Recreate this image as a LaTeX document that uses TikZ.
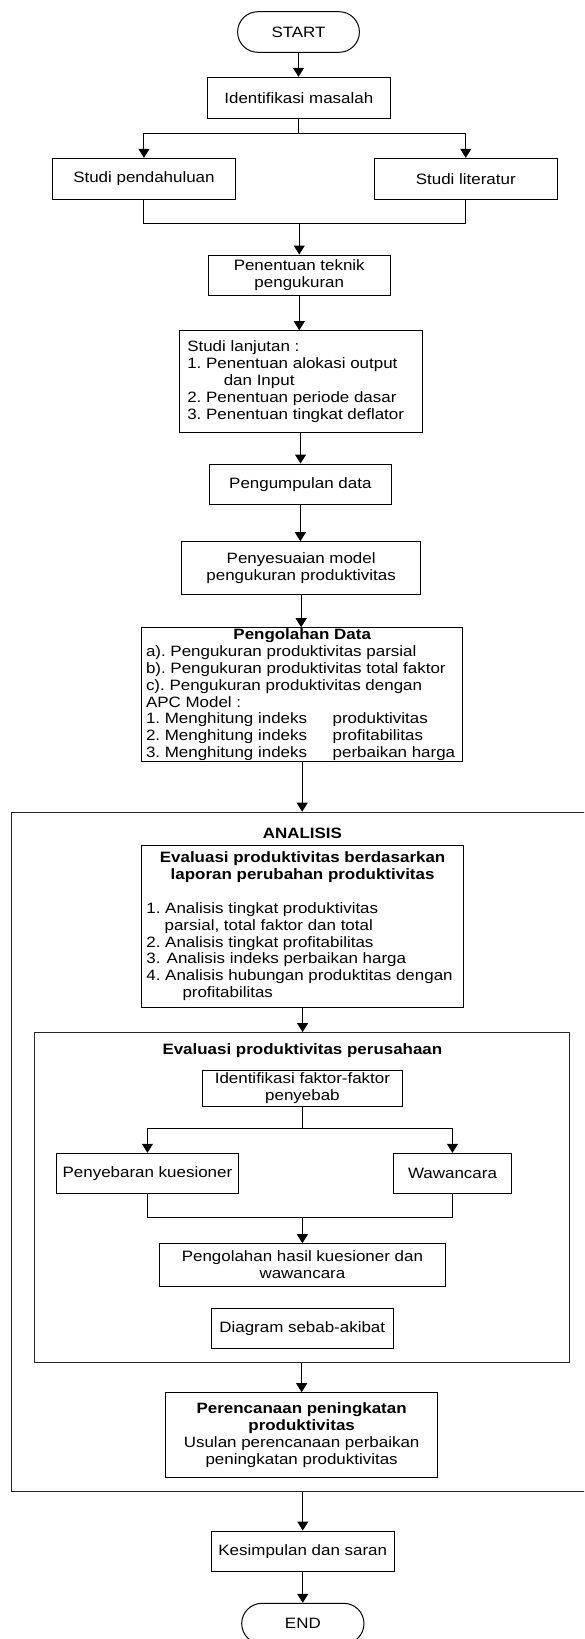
\documentclass[tikz,border=0pt]{standalone}
\usepackage{fontspec}
\setmainfont{Liberation Sans}[FakeStretch=1.13]
\usetikzlibrary{arrows.meta,shapes.misc}
\frenchspacing

\tikzset{
  txt/.style={font=\fontsize{15pt}{16.9pt}\selectfont},
  boldtxt/.style={font=\fontsize{15pt}{16.9pt}\selectfont\bfseries},
  box/.style={draw, line width=1pt, rectangle, inner sep=0pt, align=center, txt},
  term/.style={draw, line width=1pt, rounded rectangle, inner sep=0pt, txt},
  frame/.style={draw=black!85, line width=1.2pt, rectangle, inner sep=0pt},
  link/.style={line width=1pt},
  arr/.style={line width=1pt, -{Triangle[length=9pt,width=11pt]}},
}

\begin{document}
\begin{tikzpicture}[x=1pt,y=-1pt]
\useasboundingbox (0,0) rectangle (584,1639);
\clip (0,0) rectangle (584,1639);

% --- preparation stage ---
\node[term, minimum width=121.8pt, minimum height=40.6pt] (start) at (298.5,32) {START};
\node[box, minimum width=182.9pt, minimum height=40.7pt] (idm) at (298.85,97.65) {Identifikasi masalah};
\node[box, minimum width=182.1pt, minimum height=41pt] (sp) at (143.95,178.8) {Studi pendahuluan};
\node[box, minimum width=182.9pt, minimum height=41pt] (sl) at (465.75,178.8) {Studi literatur};
\node[box, minimum width=182.1pt, minimum height=40.3pt] (pt) at (299.25,275.15) {Penentuan teknik\\pengukuran};
\node[box, minimum width=242.9pt, minimum height=101.6pt, inner xsep=8.2pt] (slj) at (300.55,381.5) {%
  \parbox{226.5pt}{\raggedright
  Studi lanjutan :\\
  1. Penentuan alokasi output\\
  \hspace*{36.5pt}dan Input\\
  2. Penentuan periode dasar\\
  3. Penentuan tingkat deflator}};
\node[box, minimum width=182.1pt, minimum height=40.3pt] (pd) at (300.35,484.15) {Pengumpulan data};
\node[box, minimum width=239.3pt, minimum height=52.6pt] (pm) at (301.15,568) {Penyesuaian model\\pengukuran produktivitas};
\node[box, minimum width=321pt, minimum height=134pt, inner xsep=4.3pt] (pgd) at (302.2,694.7) {%
  \parbox{312.4pt}{\raggedright
  \makebox[\linewidth]{\bfseries Pengolahan Data}\\
  a). Pengukuran produktivitas parsial\\
  b). Pengukuran produktivitas total faktor\\
  c). Pengukuran produktivitas dengan\\
  APC Model :\\
  \makebox[186.7pt][l]{1. Menghitung indeks}produktivitas\\
  \makebox[186.7pt][l]{2. Menghitung indeks}profitabilitas\\
  \makebox[186.7pt][l]{3. Menghitung indeks}perbaikan harga}};

% --- analysis stage ---
\node[frame, minimum width=588.8pt, minimum height=679.4pt] (analisis) at (305.6,1152) {};
\node[boldtxt] (analisistitle) at (302.4,833.3) {ANALISIS};
\node[box, minimum width=321.4pt, minimum height=162pt, inner xsep=4.5pt] (ev) at (302.6,926.3) {%
  \parbox{312.4pt}{\raggedright
  \makebox[\linewidth]{\bfseries Evaluasi produktivitas berdasarkan}\\
  \makebox[\linewidth]{\bfseries laporan perubahan produktivitas}\\[16.9pt]
  1. Analisis tingkat produktivitas\\
  \hspace*{18.2pt}parsial, total faktor dan total\\
  2. Analisis tingkat profitabilitas\\
  3.\hspace{1.5pt} Analisis indeks perbaikan harga\\
  4. Analisis hubungan produktitas dengan\\
  \hspace*{36.1pt}profitabilitas}};

\node[frame, minimum width=534.5pt, minimum height=329.6pt] (inner) at (301.85,1197.5) {};
\node[boldtxt] (innertitle) at (302.4,1050.7) {Evaluasi produktivitas perusahaan};
\node[box, minimum width=200.4pt, minimum height=35.3pt] (ifp) at (302.4,1088.35) {Identifikasi faktor-faktor\\penyebab};
\node[box, minimum width=182.5pt, minimum height=40.4pt] (pk) at (147.45,1173.5) {Penyebaran kuesioner};
\node[box, minimum width=118.4pt, minimum height=40.4pt] (ww) at (452.5,1173.5) {Wawancara};
\node[box, minimum width=285.2pt, minimum height=42.6pt] (ph) at (302.4,1265) {Pengolahan hasil kuesioner dan\\wawancara};
\node[box, minimum width=182.1pt, minimum height=40.3pt] (ds) at (302.25,1328.15) {Diagram sebab-akibat};

\node[box, minimum width=271.9pt, minimum height=84.6pt] (pp) at (301.65,1435) {%
  \textbf{Perencanaan peningkatan}\\
  \textbf{produktivitas}\\
  Usulan perencanaan perbaikan\\
  peningkatan produktivitas};

% --- conclusion ---
\node[box, minimum width=182.5pt, minimum height=40.3pt] (ks) at (302.75,1551.15) {Kesimpulan dan saran};
\node[term, minimum width=122.3pt, minimum height=40.6pt] (end) at (302.85,1623.6) {END};

% --- connectors ---
\draw[arr] (start.south) -- (start.south |- idm.north);
\draw[link] (idm.south) -- ++(0,15.3) coordinate (b1);
\draw[arr] (b1) -| (sp.north);
\draw[arr] (b1) -| (sl.north);
\draw[link] (sp.south) -- ++(0,23.4) coordinate (j1) -| (sl.south);
\draw[arr] (j1 -| pt.north) -- (pt.north);
\draw[arr] (pt.south) -- (pt.south |- slj.north);
\draw[arr] (slj.south) -- (slj.south |- pd.north);
\draw[arr] (pd.south) -- (pd.south |- pm.north);
\draw[arr] (pm.south) -- (pm.south |- pgd.north);
\draw[arr] (pgd.south) -- (pgd.south |- analisis.north);
\draw[arr] (ev.south) -- (ev.south |- inner.north);
\draw[link] (ifp.south) -- ++(0,22) coordinate (b2);
\draw[arr] (b2) -| (pk.north);
\draw[arr] (b2) -| (ww.north);
\draw[link] (pk.south) -- ++(0,23.6) coordinate (j2) -| (ww.south);
\draw[arr] (j2 -| ph.north) -- (ph.north);
\draw[arr] (inner.south -| pp.north) -- (pp.north);
\draw[arr] (analisis.south -| ks.north) -- (ks.north);
\draw[arr] (ks.south) -- (ks.south |- end.north);
\end{tikzpicture}
\end{document}
